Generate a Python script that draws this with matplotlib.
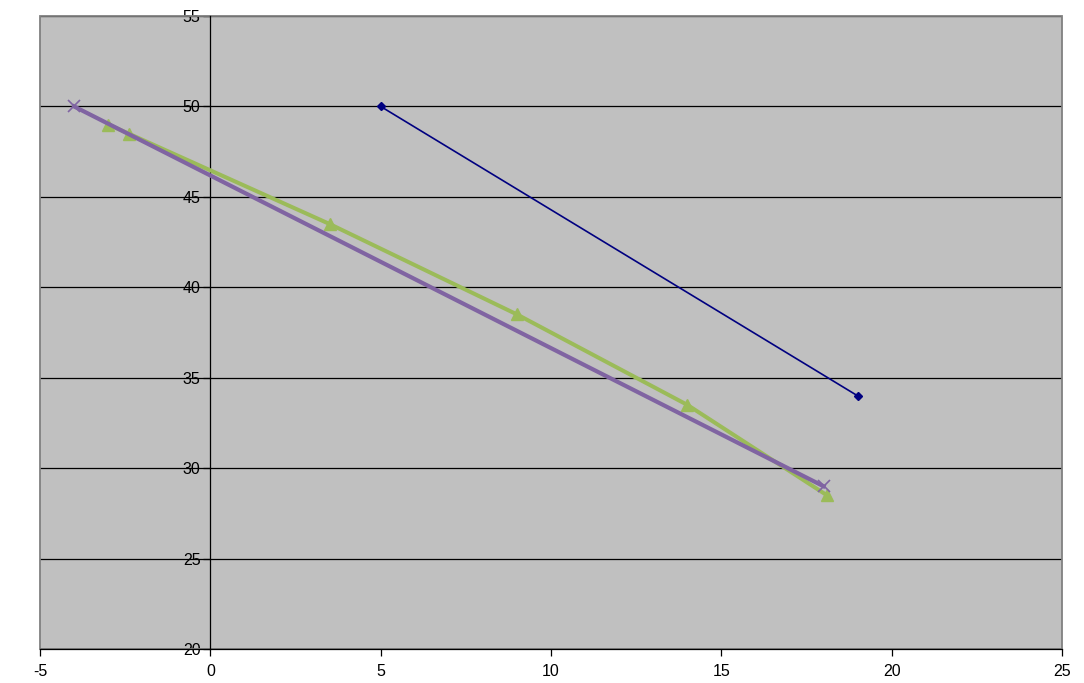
import matplotlib
matplotlib.use("Agg")
import matplotlib.pyplot as plt
from matplotlib.patches import Rectangle

plt.rcParams['font.family'] = ['Liberation Sans', 'DejaVu Sans']
plt.rcParams['axes.unicode_minus'] = False

# series data
blue_x = [5, 19]
blue_y = [50, 34]
green_x = [-3, -2.4, 3.5, 9, 14, 18.1]
green_y = [49, 48.5, 43.5, 38.5, 33.5, 28.5]
purple_x = [-4, 18]
purple_y = [50, 29]

x_ticks = [-5, 0, 5, 10, 15, 20, 25]
y_ticks = [20, 25, 30, 35, 40, 45, 50, 55]

fig = plt.figure(figsize=(10.84, 6.83), dpi=100)
ax = fig.add_axes([40 / 1084, 1 - 649 / 683, 1022 / 1084, 633 / 683])
ax.set_facecolor('#C0C0C0')

ax.set_xlim(-5, 25)
ax.set_ylim(20, 55)
ax.set_xticks(x_ticks)
ax.set_yticks(y_ticks)

ax.yaxis.grid(True, color='black', linewidth=0.9)
ax.set_axisbelow(True)

ax.plot(blue_x, blue_y, color='#000080', linewidth=1.2, marker='D', markersize=4.5, zorder=3)
ax.plot(green_x, green_y, color='#9BBB59', linewidth=2.9, marker='^', markersize=8, zorder=3)
ax.plot(purple_x, purple_y, color='#8064A2', linewidth=3.0, marker='x', markersize=9,
        markeredgewidth=1.2, zorder=4)

# axes crossing at x=0
ax.spines['left'].set_position(('data', 0))
ax.spines['left'].set_color('black')
ax.spines['left'].set_linewidth(0.9)
ax.spines['bottom'].set_color('black')
ax.spines['bottom'].set_linewidth(0.9)
ax.spines['top'].set_visible(False)
ax.spines['right'].set_visible(False)

frame = Rectangle((0, 0), 1, 1, transform=ax.transAxes, fill=False,
                  edgecolor='#808080', linewidth=1.3, clip_on=False, zorder=1)
ax.add_patch(frame)

ax.tick_params(axis='both', direction='out', length=5, width=0.9, labelsize=11.5, colors='black')
ax.tick_params(axis='y', pad=2)
ax.tick_params(axis='x', pad=6)

fig.savefig('out.png', dpi=100, facecolor='white')
